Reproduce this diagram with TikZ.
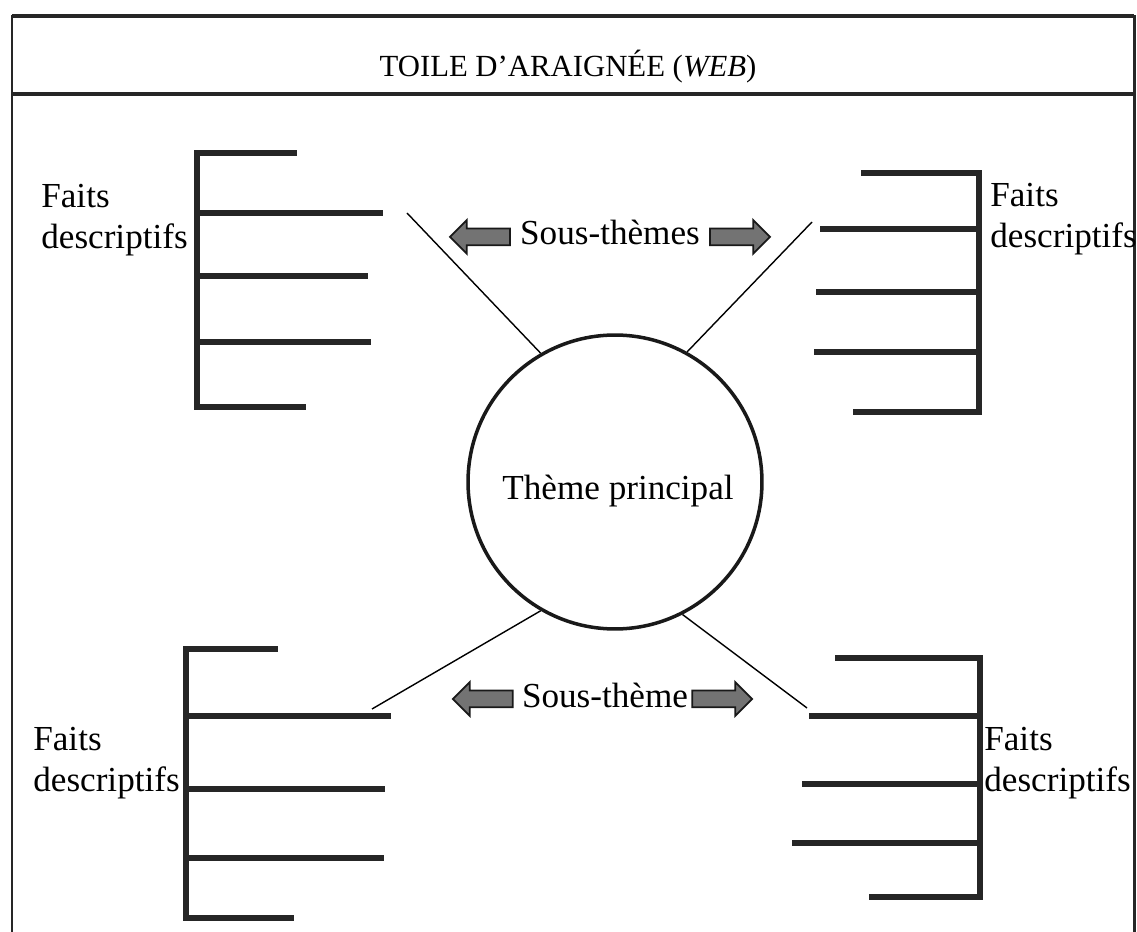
\documentclass[tikz,border=0pt]{standalone}
\usepackage{fontspec}
\setmainfont{Liberation Serif}
\usetikzlibrary{positioning,shapes.arrows}

\tikzset{
  frame/.style={line width=1.7pt, draw=black!85},
  fact/.style={line width=3.1pt, line cap=rect, draw=black!85},
  spoke/.style={line width=0.8pt},
  lbl/.style={font=\fontsize{20}{23.5}\selectfont, inner sep=0pt, align=left},
  theme/.style={circle, draw=black!90, line width=2pt, minimum size=5.88cm, inner sep=0pt},
  subarrow/.style={single arrow, draw=black!90, fill=black!55, line width=1pt,
    minimum height=1.2cm, inner sep=0.15cm, single arrow head extend=0.17cm}
}

\begin{document}
\begin{tikzpicture}[x=0.02cm, y=-0.02cm]
  \useasboundingbox (0,0) rectangle (1137,932);

  % outer frame and title box
  \draw[frame] (12,932) -- (12,16) -- (1134,16) -- (1134,932);
  \draw[frame, line width=2.4pt] (12,16) -- (1134,16);
  \draw[frame, line width=2.4pt] (12,94) -- (1134,94);
  \node[font=\fontsize{17.5}{20}\selectfont, anchor=base] (title) at (568,77)
    {TOILE D’ARAIGNÉE (\textit{WEB})};

  % main theme
  \node[theme] (theme) at (615,482) {};
  \node[lbl, anchor=base] (themetext) at (618,500) {Thème principal};

  % upper left facts
  \draw[fact] (197,153) -- (197,407);
  \foreach \y/\x in {153/294, 213/380, 276/365, 342/368, 407/303}
    \draw[fact] (197,\y) -- (\x,\y);
  \node[lbl, anchor=north west] (factsul) at (41,184) {Faits\\descriptifs};

  % upper right facts
  \draw[fact] (979,173) -- (979,412);
  \foreach \y/\x in {173/864, 229/823, 292/819, 352/817, 412/856}
    \draw[fact] (979,\y) -- (\x,\y);
  \node[lbl, anchor=north west] (factsur) at (990,183) {Faits\\descriptifs};

  % lower left facts
  \draw[fact] (186,649) -- (186,918);
  \foreach \y/\x in {649/275, 716/388, 789/382, 858/381, 918/291}
    \draw[fact] (186,\y) -- (\x,\y);
  \node[lbl, anchor=north west] (factsll) at (33,727) {Faits\\descriptifs};

  % lower right facts
  \draw[fact] (980,658) -- (980,897);
  \foreach \y/\x in {658/838, 716/812, 784/805, 843/795, 897/872}
    \draw[fact] (980,\y) -- (\x,\y);
  \node[lbl, anchor=north west] (factslr) at (984,727) {Faits\\descriptifs};

  % spokes to the sub-themes
  \coordinate (tl) at (407,213);
  \coordinate (tr) at (812,222);
  \coordinate (bl) at (372,709);
  \coordinate (br) at (807,708);
  \draw[spoke] (tl) -- (theme.120);
  \draw[spoke] (tr) -- (theme.61);
  \draw[spoke] (bl) -- (theme.-120);
  \draw[spoke] (br) -- (theme.-63);

  % sub-theme labels with arrows
  \node[lbl, anchor=base] (subtop) at (610,245) {Sous-thèmes};
  \node[subarrow, shape border rotate=180, left=0.18cm of subtop, yshift=-0.08cm] (subtopl) {};
  \node[subarrow, right=0.18cm of subtop, yshift=-0.08cm] (subtopr) {};

  \node[lbl, anchor=base] (subbot) at (605,707) {Sous-thème};
  \node[subarrow, shape border rotate=180, left=0.16cm of subbot, yshift=-0.08cm] (subbotl) {};
  \node[subarrow, right=0.06cm of subbot, yshift=-0.08cm] (subbotr) {};
\end{tikzpicture}
\end{document}
